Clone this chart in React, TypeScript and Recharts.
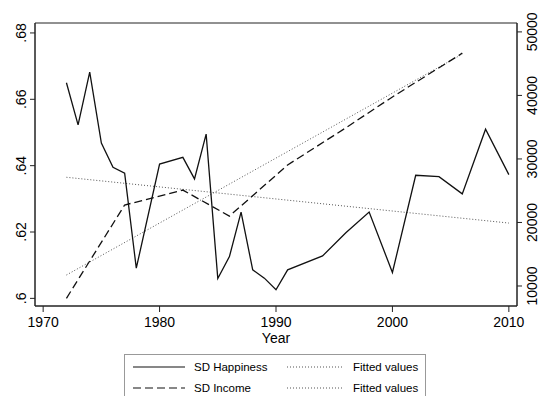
import React from 'react';
import { ComposedChart, Line, XAxis, YAxis, ReferenceArea } from 'recharts';

// SD of happiness (left axis)
const happinessYears = [1972, 1973, 1974, 1975, 1976, 1977, 1978, 1980, 1982, 1983, 1984, 1985, 1986, 1987, 1988, 1989, 1990, 1991, 1994, 1996, 1998, 2000, 2002, 2004, 2006, 2008, 2010];
const happinessValues = [0.665, 0.6523, 0.6682, 0.6468, 0.6395, 0.6377, 0.6091, 0.6405, 0.6425, 0.636, 0.6495, 0.606, 0.6126, 0.626, 0.6086, 0.6061, 0.6026, 0.6086, 0.6128, 0.6198, 0.626, 0.6078, 0.6371, 0.6367, 0.6315, 0.651, 0.6373];

// SD of income (right axis)
const incomeYears = [1972, 1977, 1982, 1986, 1991, 1996, 2000, 2006];
const incomeValues = [8060, 22750, 25100, 21000, 29050, 34900, 39760, 46650];

// fitted lines, end points
const fitHappinessYears = [1972, 2010];
const fitHappinessValues = [0.6365, 0.6227];
const fitIncomeYears = [1972, 2006];
const fitIncomeValues = [11730, 46500];

const yearTicks = [1970, 1980, 1990, 2000, 2010];
const leftTicks = [0.6, 0.62, 0.64, 0.66, 0.68];
const leftLabels = ['.6', '.62', '.64', '.66', '.68'];
const rightTicks = [10000, 20000, 30000, 40000, 50000];

const toRows = (xs: number[], vs: number[]) => xs.map((x, i) => ({ year: x, v: vs[i] }));

const happiness = toRows(happinessYears, happinessValues);
const income = toRows(incomeYears, incomeValues);
const fitHappiness = toRows(fitHappinessYears, fitHappinessValues);
const fitIncome = toRows(fitIncomeYears, fitIncomeValues);

const font = '"Liberation Sans", Arial, sans-serif';
const axisColor = '#222';
const dotColor = '#555';

const XTick = (p: any) => (
	<text x={p.x} y={327} textAnchor='middle' fontSize={14} fill='#000' fontFamily={font}>
		{p.payload.value}
	</text>
);

const LeftTick = (p: any) => {
	const i = leftTicks.indexOf(p.payload.value);
	return (
		<text x={26} y={p.y} transform={`rotate(-90 26 ${p.y})`} textAnchor='middle' fontSize={14} fill='#000' fontFamily={font}>
			{i >= 0 ? leftLabels[i] : p.payload.value}
		</text>
	);
};

const RightTick = (p: any) => (
	<text x={537} y={p.y} transform={`rotate(-90 537 ${p.y})`} textAnchor='middle' fontSize={14} fill='#000' fontFamily={font}>
		{p.payload.value}
	</text>
);

const YearLabel = (p: any) => {
	const vb = p.viewBox || { x: 35, width: 482 };
	return (
		<text x={vb.x + vb.width / 2} y={343} textAnchor='middle' fontSize={14} fill='#000' fontFamily={font}>
			Year
		</text>
	);
};

const LegendItem = ({ dash, color, label, left, top, lineW }: { dash?: string; color: string; label: string; left: number; top: number; lineW: number }) => (
	<div style={{ position: 'absolute', left, top: top - 8, height: 16, display: 'flex', alignItems: 'center', whiteSpace: 'nowrap' }}>
		<svg width={lineW} height={4} style={{ marginRight: 9 }}>
			<line x1={0} y1={2} x2={lineW} y2={2} stroke={color} strokeWidth={1.2} strokeDasharray={dash} />
		</svg>
		<span style={{ lineHeight: '16px' }}>{label}</span>
	</div>
);

export default function App() {
	return (
		<div style={{ position: 'absolute', left: 0, top: 0, width: 540, height: 396, overflow: 'hidden', background: '#fff', fontFamily: font }}>
			<ComposedChart width={540} height={396} margin={{ top: 23, right: 0, bottom: 50, left: 0 }}>
				<XAxis
					dataKey='year'
					type='number'
					domain={[1969.3, 2010.7]}
					ticks={yearTicks}
					allowDataOverflow
					tickSize={6}
					stroke={axisColor}
					tick={XTick}
					height={40}
					label={YearLabel}
				/>
				<YAxis
					yAxisId='left'
					orientation='left'
					type='number'
					domain={[0.5977, 0.683]}
					ticks={leftTicks}
					allowDataOverflow
					width={35}
					tickSize={5}
					stroke={axisColor}
					tick={LeftTick}
				/>
				<YAxis
					yAxisId='right'
					orientation='right'
					type='number'
					domain={[6850, 51400]}
					ticks={rightTicks}
					allowDataOverflow
					width={23}
					tickSize={5}
					stroke={axisColor}
					tick={RightTick}
				/>
				<ReferenceArea yAxisId='left' x1={1969.3} x2={2010.7} y1={0.5977} y2={0.683} fill='none' fillOpacity={0} stroke={axisColor} strokeWidth={1} />
				<Line yAxisId='left' data={fitHappiness} dataKey='v' type='linear' stroke={dotColor} strokeWidth={1} strokeDasharray='1 2' dot={false} isAnimationActive={false} />
				<Line yAxisId='right' data={fitIncome} dataKey='v' type='linear' stroke={dotColor} strokeWidth={1} strokeDasharray='1 2' dot={false} isAnimationActive={false} />
				<Line yAxisId='right' data={income} dataKey='v' type='linear' stroke='#111' strokeWidth={1.3} strokeDasharray='8 4' dot={false} isAnimationActive={false} />
				<Line yAxisId='left' data={happiness} dataKey='v' type='linear' stroke='#111' strokeWidth={1.3} dot={false} isAnimationActive={false} />
			</ComposedChart>
			<div
				style={{
					position: 'absolute',
					left: 124,
					top: 354,
					width: 302,
					height: 60,
					border: '1px solid #999',
					boxSizing: 'border-box',
				}}
			/>
			<div style={{ position: 'absolute', left: 0, top: 0, fontSize: 11.5, color: '#000' }}>
				<LegendItem color='#111' label='SD Happiness' left={133} top={367} lineW={52} />
				<LegendItem color={dotColor} dash='1 2' label='Fitted values' left={287} top={367} lineW={57} />
				<LegendItem color='#111' dash='8 4' label='SD Income' left={133} top={388} lineW={52} />
				<LegendItem color={dotColor} dash='1 2' label='Fitted values' left={287} top={388} lineW={57} />
			</div>
		</div>
	);
}
